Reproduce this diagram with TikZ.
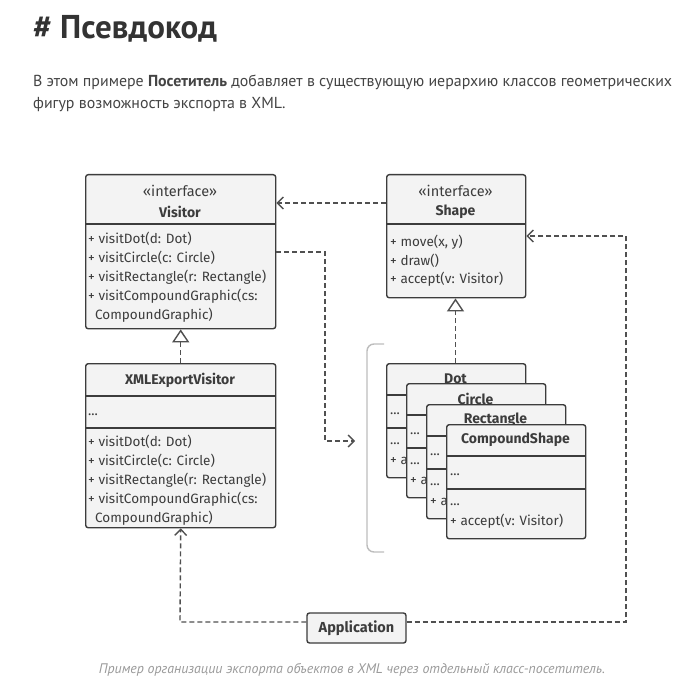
\documentclass[tikz,border=0pt]{standalone}
\usepackage{fontspec}
\setmainfont{PT Sans}
\newfontfamily\dgfont{Fira Sans}
\usetikzlibrary{arrows.meta}
\definecolor{ink}{HTML}{3C3C3C}
\definecolor{titlec}{HTML}{333333}
\definecolor{parac}{HTML}{444444}
\definecolor{boxfill}{HTML}{F3F3F3}
\definecolor{capgray}{HTML}{9A9A9A}
\definecolor{brk}{HTML}{BDBDBD}
\definecolor{dashc}{HTML}{505050}
\begin{document}
\begin{tikzpicture}[x=1pt,y=-1pt,
  cls/.style={draw=ink, line width=1.4pt, fill=boxfill, rounded corners=2.5pt, inner sep=0pt, anchor=north west},
  divl/.style={draw=ink, line width=1.4pt},
  txt/.style={inner sep=0pt, font=\dgfont\fontsize{13.5}{15}\selectfont, text=ink, anchor=west, text height=9.8pt, text depth=3pt},
  hdr/.style={inner sep=0pt, font=\dgfont\fontsize{14}{16}\selectfont\bfseries, text=ink},
  stereo/.style={inner sep=0pt, font=\dgfont\fontsize{14.5}{16}\selectfont, text=ink},
  dep/.style={draw=dashc, line width=1.4pt, dash pattern=on 5pt off 3pt, -{Straight Barb[length=6pt,width=12pt,line width=1.4pt]}},
  inh/.style={draw=dashc, line width=1.4pt, dash pattern=on 5pt off 3pt, -{Triangle[open, length=13pt, width=17pt, line width=1.4pt, fill=white]}}
]
\useasboundingbox[fill=white] (0,0) rectangle (699,700);

% title and text
\node[anchor=base west, inner sep=0pt, font=\fontsize{33}{38}\selectfont\bfseries, text=titlec] (title) at (33,39) {\# Псевдокод};
\node[anchor=base west, inner sep=0pt, font=\fontsize{15.9}{20}\selectfont, text=parac] (para1) at (33,87) {В этом примере \textbf{Посетитель} добавляет в существующую иерархию классов геометрических};
\node[anchor=base west, inner sep=0pt, font=\fontsize{15.9}{20}\selectfont, text=parac] (para2) at (33,109) {фигур возможность экспорта в XML.};

% Visitor
\node[cls, minimum width=190pt, minimum height=154pt] (visitor) at (85,174) {};
\draw[divl] (85,224) -- (275,224);
\node[stereo] (visst) at (180,191) {«interface»};
\node[hdr] (visnm) at (180,212) {Visitor};
\node[txt] (v1) at (88,240) {+ visitDot(d: Dot)};
\node[txt] (v2) at (88,259) {+ visitCircle(c: Circle)};
\node[txt] (v3) at (88,278) {+ visitRectangle(r: Rectangle)};
\node[txt] (v4) at (88,297) {+ visitCompoundGraphic(cs:};
\node[txt] (v5) at (95,316) {CompoundGraphic)};

% XMLExportVisitor
\node[cls, minimum width=190pt, minimum height=164pt] (xml) at (85,363) {};
\draw[divl] (85,396) -- (275,396);
\draw[divl] (85,428) -- (275,428);
\node[hdr] (xmlnm) at (180,380) {XMLExportVisitor};
\node[txt] (x0) at (88,412) {...};
\node[txt] (x1) at (88,443) {+ visitDot(d: Dot)};
\node[txt] (x2) at (88,462) {+ visitCircle(c: Circle)};
\node[txt] (x3) at (88,481) {+ visitRectangle(r: Rectangle)};
\node[txt] (x4) at (88,500) {+ visitCompoundGraphic(cs:};
\node[txt] (x5) at (95,519) {CompoundGraphic)};

% Shape
\node[cls, minimum width=139pt, minimum height=123pt] (shape) at (386,174) {};
\draw[divl] (386,224) -- (525,224);
\node[stereo] (shst) at (455.5,191) {«interface»};
\node[hdr] (shnm) at (455.5,212) {Shape};
\node[txt] (s1) at (390,243) {+ move(x, y)};
\node[txt] (s2) at (390,262) {+ draw()};
\node[txt] (s3) at (390,280) {+ accept(v: Visitor)};

% bracket
\draw[brk, line width=1.4pt, rounded corners=7pt] (384,344) -- (367,344) -- (367,552) -- (384,552);

% stacked concrete shapes
\newcommand\stackbox[4]{%
\begin{scope}[shift={(#2,#3)}]
\node[cls, minimum width=139pt, minimum height=114pt] (#1) at (0,0) {};
\draw[divl] (0,32) -- (139,32);
\draw[divl] (0,65) -- (139,65);
\node[hdr] (#1-nm) at (69.5,16) {#4};
\node[txt] (#1-a) at (4,48) {...};
\node[txt] (#1-b) at (4,78.5) {...};
\node[txt] (#1-c) at (4,98) {+ accept(v: Visitor)};
\end{scope}}
\stackbox{dot}{386}{363}{Dot}
\stackbox{circ}{406}{383}{Circle}
\stackbox{rect}{426}{404}{Rectangle}
\stackbox{comp}{446}{424}{CompoundShape}

% Application
\node[cls, anchor=center, minimum width=99pt, minimum height=30pt, font=\dgfont\fontsize{14.5}{16}\selectfont\bfseries, text=ink] (app) at (356.5,628) {Application};

% connectors
\coordinate (stackin) at (355,441);
\draw[dep] (shape.west |- 0,203) -- (visitor.east |- 0,203);
\draw[dep] (visitor.east |- 0,252) -- (325,252) -- (325,441) -- (stackin);
\draw[inh] (dot.north -| 455.5,0) -- (shape.south -| 455.5,0);
\draw[inh] (xml.north) -- (visitor.south);
\draw[dep] (app.west |- 0,622) -- (180,622) -- (xml.south);
\draw[dep] (app.east |- 0,622) -- (626,622) -- (626,236) -- (shape.east |- 0,236);

% caption
\node[anchor=base, inner sep=0pt, font=\fontsize{13.9}{16}\selectfont\itshape, text=capgray] (cap) at (352,673) {Пример организации экспорта объектов в XML через отдельный класс-посетитель.};
\end{tikzpicture}
\end{document}
